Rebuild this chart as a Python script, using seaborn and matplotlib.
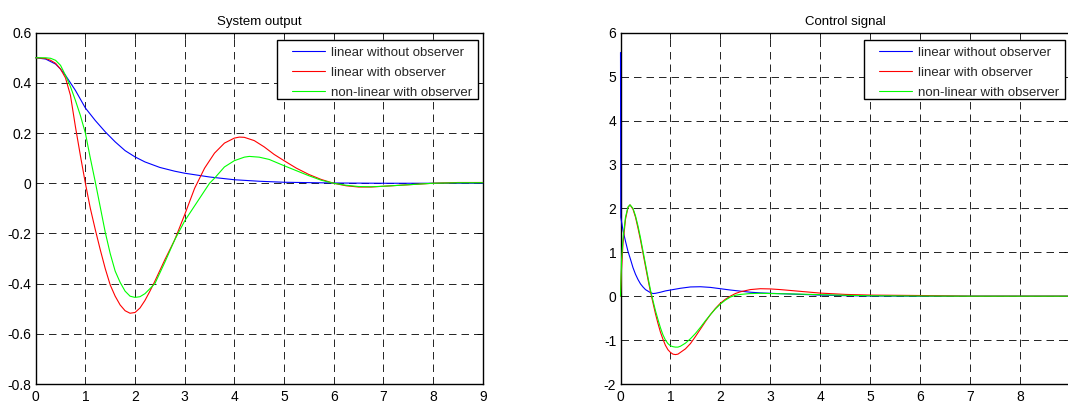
import numpy as np
import matplotlib
matplotlib.use("Agg")
import matplotlib.pyplot as plt
from matplotlib.path import Path
from matplotlib.ticker import FuncFormatter
import seaborn as sns

# ---------------- data ----------------
# Left: System output
t_out_blue = [0, 0.2, 0.4, 0.5, 0.6, 0.7, 0.8, 0.9, 1.0, 1.2, 1.4, 1.6, 1.8, 2.0, 2.2,
              2.5, 2.8, 3.0, 3.5, 4.0, 4.5, 5.0, 6.0, 7.0, 8.0, 9.0]
y_out_blue = [0.5, 0.495, 0.475, 0.455, 0.43, 0.40, 0.37, 0.335, 0.30, 0.25, 0.205, 0.165,
              0.13, 0.105, 0.085, 0.063, 0.048, 0.04, 0.025, 0.014, 0.008, 0.004, 0.001,
              0.0, 0.0, 0.0]

t_out_red = [0, 0.2, 0.3, 0.4, 0.5, 0.6, 0.7, 0.8, 0.9, 1.0, 1.1, 1.2, 1.3, 1.4, 1.5, 1.6,
             1.7, 1.8, 1.9, 2.0, 2.1, 2.2, 2.3, 2.4, 2.6, 2.8, 3.0, 3.2, 3.4, 3.6, 3.8, 4.0,
             4.1, 4.2, 4.4, 4.6, 4.8, 5.0, 5.25, 5.5, 5.75, 6.0, 6.25, 6.5, 6.75, 7.0, 7.5,
             8.0, 8.5, 9.0]
y_out_red = [0.5, 0.497, 0.49, 0.478, 0.455, 0.42, 0.35, 0.225, 0.11, 0.0, -0.1, -0.185,
             -0.265, -0.34, -0.405, -0.45, -0.485, -0.508, -0.518, -0.515, -0.497, -0.467,
             -0.43, -0.39, -0.305, -0.225, -0.125, -0.02, 0.06, 0.12, 0.16, 0.18, 0.184,
             0.183, 0.17, 0.145, 0.115, 0.09, 0.06, 0.035, 0.015, 0.0, -0.01, -0.015,
             -0.015, -0.012, -0.006, 0.0, 0.003, 0.003]

t_out_green = [0, 0.2, 0.3, 0.4, 0.5, 0.6, 0.7, 0.8, 0.9, 1.0, 1.1, 1.2, 1.3, 1.4, 1.5, 1.6,
               1.7, 1.8, 1.9, 2.0, 2.1, 2.2, 2.3, 2.4, 2.6, 2.8, 3.0, 3.2, 3.4, 3.5, 3.6,
               3.8, 4.0, 4.2, 4.3, 4.5, 4.7, 5.0, 5.25, 5.5, 5.75, 6.0, 6.25, 6.5, 6.75,
               7.0, 7.5, 8.0, 8.5, 9.0]
y_out_green = [0.5, 0.5, 0.498, 0.49, 0.47, 0.43, 0.385, 0.33, 0.27, 0.2, 0.1, 0.005,
               -0.095, -0.195, -0.28, -0.35, -0.395, -0.43, -0.45, -0.455, -0.452, -0.44,
               -0.42, -0.4, -0.315, -0.225, -0.15, -0.09, -0.03, 0.0, 0.02, 0.065, 0.09,
               0.104, 0.107, 0.104, 0.095, 0.07, 0.05, 0.03, 0.012, 0.0, -0.008, -0.013,
               -0.014, -0.012, -0.006, 0.0, 0.002, 0.002]

# Right: Control signal
t_u_blue = [0, 0.005, 0.05, 0.1, 0.15, 0.2, 0.25, 0.3, 0.35, 0.4, 0.45, 0.5, 0.6, 0.65, 0.7,
            0.8, 0.9, 1.0, 1.2, 1.4, 1.6, 1.8, 2.0, 2.2, 2.4, 2.6, 2.8, 3.0, 3.5, 4.0, 4.5,
            5.0, 6.0, 9.0]
u_blue = [5.55, 1.8, 1.5, 1.25, 1.02, 0.84, 0.65, 0.5, 0.38, 0.28, 0.21, 0.15, 0.08, 0.06,
          0.065, 0.09, 0.12, 0.14, 0.18, 0.21, 0.215, 0.2, 0.17, 0.14, 0.115, 0.09, 0.075,
          0.065, 0.045, 0.025, 0.012, 0.005, 0.0, 0.0]

t_u_red = [0, 0.02, 0.05, 0.1, 0.15, 0.19, 0.25, 0.3, 0.35, 0.4, 0.45, 0.5, 0.55, 0.6, 0.65,
           0.7, 0.75, 0.8, 0.85, 0.9, 0.95, 1.0, 1.05, 1.1, 1.15, 1.2, 1.3, 1.4, 1.5, 1.6,
           1.7, 1.8, 1.9, 2.0, 2.1, 2.2, 2.3, 2.4, 2.6, 2.8, 3.0, 3.2, 3.5, 4.0, 4.5, 5.0,
           5.5, 6.0, 6.3, 7.0, 8.0, 9.0]
u_red = [0, 0.6, 1.2, 1.75, 2.02, 2.08, 1.98, 1.8, 1.55, 1.28, 0.98, 0.68, 0.38, 0.1, -0.15,
         -0.4, -0.62, -0.82, -0.98, -1.12, -1.22, -1.28, -1.32, -1.33, -1.32, -1.28, -1.2,
         -1.08, -0.92, -0.75, -0.58, -0.42, -0.28, -0.16, -0.07, 0.0, 0.06, 0.1, 0.15,
         0.17, 0.165, 0.15, 0.12, 0.07, 0.04, 0.025, 0.02, 0.015, 0.01, 0.0, 0.0, 0.0]

t_u_green = [0, 0.02, 0.05, 0.1, 0.15, 0.19, 0.25, 0.3, 0.35, 0.4, 0.45, 0.5, 0.55, 0.6,
             0.65, 0.7, 0.75, 0.8, 0.85, 0.9, 0.95, 1.0, 1.05, 1.1, 1.15, 1.2, 1.3, 1.4,
             1.5, 1.6, 1.7, 1.8, 1.9, 2.0, 2.1, 2.2, 2.3, 2.4, 2.6, 2.8, 3.0, 3.5, 4.0,
             4.5, 5.0, 6.0, 7.0, 9.0]
u_green = [0, 0.8, 1.3, 1.8, 2.03, 2.08, 2.0, 1.83, 1.6, 1.33, 1.03, 0.73, 0.43, 0.14, -0.1,
           -0.33, -0.53, -0.72, -0.88, -1.0, -1.08, -1.13, -1.15, -1.16, -1.16, -1.14, -1.07,
           -0.97, -0.85, -0.71, -0.56, -0.42, -0.29, -0.18, -0.09, -0.02, 0.02, 0.04, 0.06,
           0.065, 0.06, 0.05, 0.035, 0.02, 0.01, 0.003, 0.0, 0.0]

series_labels = ["linear without observer", "linear with observer", "non-linear with observer"]
series_colors = ["#0000ff", "#ff0000", "#00ff00"]
titles = ["System output", "Control signal"]
x_ticks_out = list(range(0, 10))
x_ticks_u = list(range(0, 9))
y_ticks_out = [-0.8, -0.6, -0.4, -0.2, 0, 0.2, 0.4, 0.6]
y_ticks_u = [-2, -1, 0, 1, 2, 3, 4, 5, 6]

# ---------------- styling ----------------
sns.set_theme(style="white")
plt.rcParams["font.family"] = ["Liberation Sans", "DejaVu Sans"]
plt.rcParams["lines.scale_dashes"] = False
plt.rcParams["axes.edgecolor"] = "black"
plt.rcParams["axes.linewidth"] = 1.0

W, H = 1068, 405
fig = plt.figure(figsize=(W / 100, H / 100), dpi=100)
fig.patch.set_facecolor("white")

ax_l = fig.add_axes([35.7 / W, (H - 384) / H, 447 / W, 351.3 / H])
ax_r = fig.add_axes([620.5 / W, (H - 384) / H, 449.5 / W, 351.3 / H])

PAD_L, PAD_R, PAD_T, PAD_B = 0.94, 0.26, 0.28, -0.2


def wide_box(x0, y0, width, height, mutation_size):
    l = x0 - PAD_L * mutation_size
    r = x0 + width + PAD_R * mutation_size
    b = y0 - PAD_B * mutation_size
    t = y0 + height + PAD_T * mutation_size
    verts = [(l, b), (r, b), (r, t), (l, t), (l, b)]
    codes = [Path.MOVETO, Path.LINETO, Path.LINETO, Path.LINETO, Path.CLOSEPOLY]
    return Path(verts, codes)


fmt = FuncFormatter(lambda v, p: ("%g" % v).replace("\u2212", "-"))

panels = [
    (ax_l, [(t_out_blue, y_out_blue), (t_out_red, y_out_red), (t_out_green, y_out_green)],
     (0, 9), (-0.8, 0.6), x_ticks_out, y_ticks_out, titles[0]),
    (ax_r, [(t_u_blue, u_blue), (t_u_red, u_red), (t_u_green, u_green)],
     (0, 9), (-2, 6), x_ticks_u, y_ticks_u, titles[1]),
]

fs_pt = 9.5
fs_px = fs_pt * 100 / 72

for ax, data, xl, yl, xt, yt, title in panels:
    ax.set_facecolor("white")
    for (tt, yy), lab, col in zip(data, series_labels, series_colors):
        sns.lineplot(x=tt, y=yy, ax=ax, color=col, linewidth=0.8, label=lab,
                     sort=False, estimator=None, zorder=3, clip_on=False)
    ax.set_xlim(*xl)
    ax.set_ylim(*yl)
    ax.set_xticks(xt)
    ax.set_yticks(yt)
    ax.xaxis.set_major_formatter(fmt)
    ax.yaxis.set_major_formatter(fmt)
    ax.grid(True, color="black", linestyle=(0, (5.4, 3.6)), linewidth=0.6)
    ax.tick_params(direction="in", top=True, right=True, length=4, width=0.6,
                   labelsize=10, pad=3, colors="black")
    ax.tick_params(axis="x", pad=4)
    for sp in ax.spines.values():
        sp.set_visible(True)
        sp.set_color("black")
        sp.set_linewidth(1.0)
    ax.set_title(title, fontsize=fs_pt, pad=5.5, color="black")
    ax.set_xlabel("")
    ax.set_ylabel("")
    # legend anchored at upper right (frame padded like MATLAB)
    bb = ax.get_position()
    ax_w_px = bb.width * W
    ax_h_px = bb.height * H
    x_anchor = 1 - (5 + PAD_R * fs_px) / ax_w_px
    y_anchor = 1 - (7.3 + PAD_T * fs_px) / ax_h_px
    leg = ax.legend(loc="upper right", bbox_to_anchor=(x_anchor, y_anchor),
                    borderaxespad=0, fontsize=fs_pt, frameon=True, fancybox=False,
                    framealpha=1, edgecolor="black", borderpad=0.2,
                    labelspacing=0.6, handlelength=2.5, handletextpad=0.45)
    leg.set_zorder(6)
    leg.get_frame().set_linewidth(1.0)
    leg.legendPatch.set_boxstyle(wide_box)
    for line in leg.get_lines():
        line.set_linewidth(0.8)

fig.savefig("out.png", dpi=100, facecolor="white")
